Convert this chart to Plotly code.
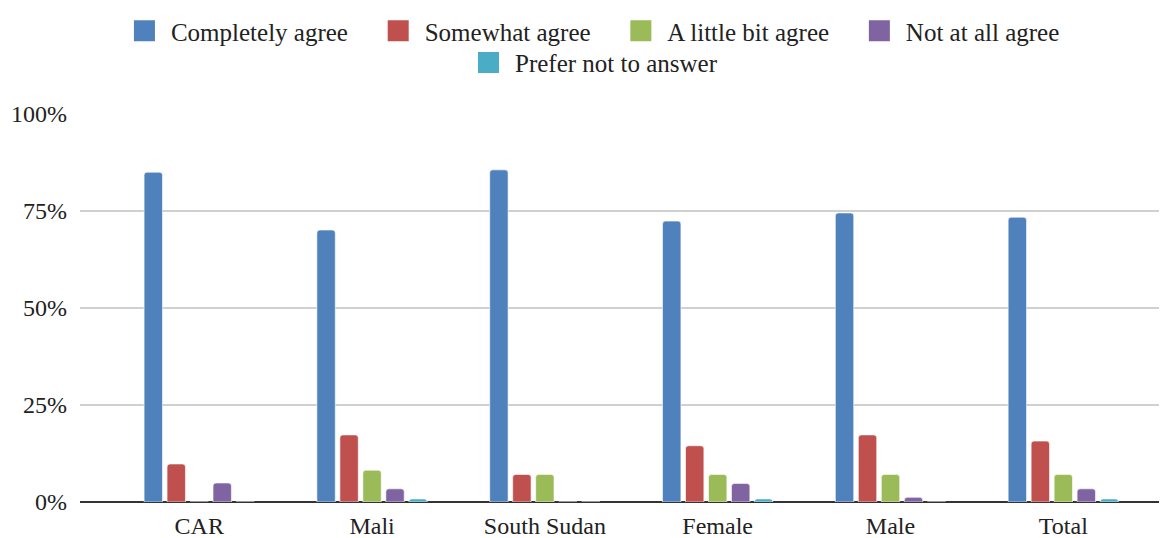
import plotly.graph_objects as go

# Survey responses by group (percent)
groups = ["CAR", "Mali", "South Sudan", "Female", "Male", "Total"]
completely_agree = [85.0, 70.1, 85.6, 72.4, 74.5, 73.4]
somewhat_agree = [9.8, 17.3, 7.1, 14.5, 17.3, 15.7]
little_bit_agree = [0.0, 8.2, 7.1, 7.1, 7.1, 7.1]
not_at_all_agree = [4.9, 3.4, 0.0, 4.8, 1.2, 3.4]
prefer_not = [0.0, 0.8, 0.0, 0.8, 0.0, 0.8]

series_names = ["Completely agree", "Somewhat agree", "A little bit agree",
                "Not at all agree", "Prefer not to answer"]
series_values = [completely_agree, somewhat_agree, little_bit_agree,
                 not_at_all_agree, prefer_not]
colors = ["#4F81BD", "#C0504D", "#9BBB59", "#8064A2", "#4BACC6"]

font_family = "Liberation Serif, Times New Roman, serif"
pad = "\u00a0" * 3  # extra spacing between legend entries

fig = go.Figure()
for i, (name, vals, color) in enumerate(zip(series_names, series_values, colors)):
    fig.add_trace(go.Bar(
        x=groups, y=vals, name=name, showlegend=False,
        marker=dict(color=color, cornerradius=3,
                    line=dict(color="rgba(255,255,255,0.6)", width=1)),
    ))
    # legend-only entry with a larger square swatch
    leg = "legend" if i < 4 else "legend2"
    label = name + (pad if i < 3 else "")
    fig.add_trace(go.Scatter(
        x=[None], y=[None], mode="markers", name=label, legend=leg,
        marker=dict(symbol="square", size=16, color=color,
                    line=dict(color=color, width=8)),
        hoverinfo="skip",
    ))

# page body adds an 8px offset, so the figure is sized a bit smaller
fig.update_layout(
    width=1159, height=530,
    margin=dict(l=72, r=0, t=106, b=36),
    paper_bgcolor="white", plot_bgcolor="white",
    font=dict(family=font_family, size=24, color="#222"),
    barmode="group", bargap=0.335, bargroupgap=0.2,
    legend=dict(orientation="h", x=0.4705, xanchor="center", y=1.0,
                yanchor="top", yref="container", font=dict(size=25),
                itemwidth=43, itemsizing="trace", bgcolor="rgba(0,0,0,0)"),
    legend2=dict(orientation="h", x=0.4715, xanchor="center", y=0.94,
                 yanchor="top", yref="container", font=dict(size=25),
                 itemwidth=43, itemsizing="trace", bgcolor="rgba(0,0,0,0)"),
    showlegend=True,
)

fig.update_xaxes(
    range=[-0.69, 5.6], showgrid=False, showline=False, automargin=False,
    ticks="", ticklabelstandoff=7, tickfont=dict(size=24),
)
fig.update_yaxes(
    range=[0, 100], tickvals=[0, 25, 50, 75, 100],
    ticktext=["0%", "25%", "50%", "75%", "100%"],
    showgrid=True, gridcolor="#d0d0d0", gridwidth=1.5,
    zeroline=True, zerolinecolor="#333333", zerolinewidth=1.5,
    ticks="", ticklabelstandoff=12, tickfont=dict(size=24),
)

fig.write_html("out.html")
